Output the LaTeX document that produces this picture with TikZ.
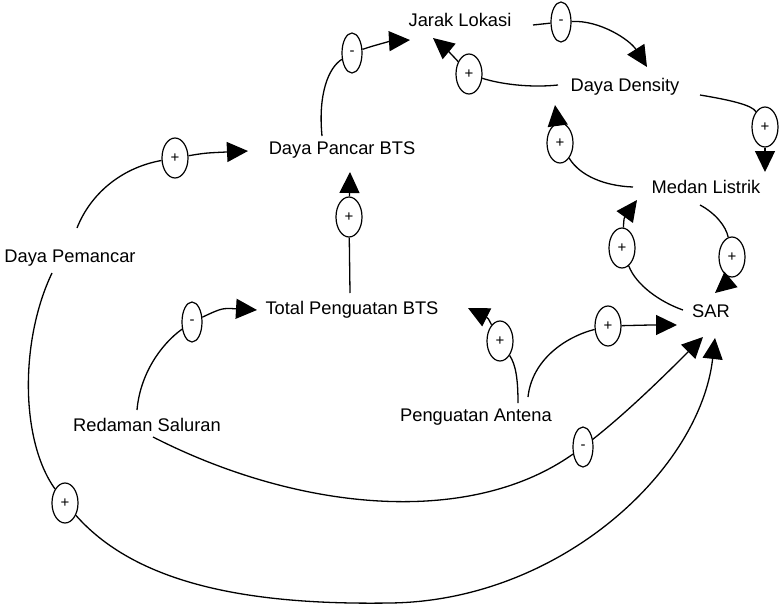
\documentclass[tikz,border=0pt]{standalone}
\usepackage{fontspec}
\setmainfont{Liberation Sans}
\usetikzlibrary{arrows.meta,shapes.geometric,calc}
\begin{document}
\begin{tikzpicture}[x=1pt,y=-1pt,
  lbl/.style={font=\fontsize{18.3}{22}\selectfont, inner sep=0pt},
  pol/.style={ellipse, draw, line width=1.2pt, minimum height=40pt, inner sep=0pt, font=\fontsize{15}{17}\selectfont},
  polp/.style={pol, minimum width=26pt},
  polm/.style={pol, minimum width=20pt},
  link/.style={line width=1.3pt},
  arr/.style={link, -{Triangle[length=21pt,width=20pt]}}]
\useasboundingbox (0,0) rectangle (780,605);

% variables
\node[lbl] (jl)  at (460,20)  {Jarak Lokasi};
\node[lbl] (dd)  at (625,87)  {Daya Density};
\node[lbl] (dpb) at (342,150) {Daya Pancar BTS};
\node[lbl] (ml)  at (706,187) {Medan Listrik};
\node[lbl] (pem) at (70,258)  {Daya Pemancar};
\node[lbl] (tpb) at (352,310) {Total Penguatan BTS};
\node[lbl] (sar) at (711,311) {SAR};
\node[lbl] (rs)  at (147,425) {Redaman Saluran};
\node[lbl] (pa)  at (476,417) {Penguatan Antena};

% polarity markers
\node[polm] (o1)  at (352,53)  {-};
\node[polm] (o2)  at (561,22)  {-};
\node[polp] (o3)  at (469,74)  {+};
\node[polp] (o4)  at (560,143) {+};
\node[polp] (o5)  at (765,127) {+};
\node[polp] (o6)  at (622,248) {+};
\node[polp] (o7)  at (732,257) {+};
\node[polp] (o8)  at (175,158) {+};
\node[polp] (o9)  at (349,217) {+};
\node[polm] (o10) at (192,322) {-};
\node[polp] (o11) at (500,341) {+};
\node[polp] (o12) at (608,326) {+};
\node[polm] (o13) at (583,447) {-};
\node[polp] (o14) at (65,503)  {+};

% Daya Pancar BTS -> Jarak Lokasi
\draw[link] ($(dpb)+(-20,-14)$) .. controls (318,95) and (328,68) .. (o1);
\draw[arr] (o1) .. controls (375,45) and (392,41) .. ($(jl)+(-50,20)$);
% Jarak Lokasi -> Daya Density
\draw[link] ($(jl)+(73,5)$) -- (o2);
\draw[arr] (o2) .. controls (600,20) and (630,40) .. ($(dd)+(22,-20)$);
% Daya Density -> Jarak Lokasi
\draw[link] ($(dd)+(-67,-2)$) .. controls (530,88) and (500,84) .. (o3);
\draw[arr] (o3) .. controls (455,58) and (445,48) .. ($(jl)+(-27,18)$);
% Medan Listrik -> Daya Density
\draw[link] ($(ml)+(-73,0)$) .. controls (605,186) and (580,176) .. (o4);
\draw[arr] (o4) -- ($(dd)+(-70,18)$);
% Daya Density -> Medan Listrik
\draw[link] ($(dd)+(75,8)$) .. controls (730,100) and (752,105) .. (o5);
\draw[arr] (o5) -- ($(ml)+(59,-15)$);
% SAR -> Medan Listrik
\draw[link] ($(sar)+(-28,-1)$) .. controls (660,302) and (636,285) .. (o6);
\draw[arr] (o6) .. controls (624,218) .. ($(ml)+(-69,13)$);
% Medan Listrik -> SAR
\draw[link] ($(ml)+(-6,18)$) .. controls (715,213) and (726,226) .. (o7);
\draw[arr] (o7) .. controls (728,282) .. ($(sar)+(4,-18)$);
% Daya Pemancar -> Daya Pancar BTS
\draw[link] ($(pem)+(7,-30)$) .. controls (90,195) and (120,168) .. (o8);
\draw[arr] (o8) .. controls (205,153) .. ($(dpb)+(-94,1)$);
% Total Penguatan BTS -> Daya Pancar BTS
\draw[link] ($(tpb)+(-2,-17)$) -- (o9);
\draw[arr] (o9) -- ($(dpb)+(8,22)$);
% Redaman Saluran -> Total Penguatan BTS
\draw[link] ($(rs)+(-10,-15)$) .. controls (140,375) and (160,345) .. (o10);
\draw[arr] (o10) .. controls (222,308) .. ($(tpb)+(-95,0)$);
% Penguatan Antena -> Total Penguatan BTS
\draw[link] ($(pa)+(42,-14)$) .. controls (518,380) and (516,365) .. (o11);
\draw[arr] (o11) .. controls (488,318) .. ($(tpb)+(116,-2)$);
% Penguatan Antena -> SAR
\draw[link] ($(pa)+(52,-20)$) .. controls (532,360) and (565,337) .. (o12);
\draw[arr] (o12) .. controls (650,325) .. ($(sar)+(-34,14)$);
% Redaman Saluran -> SAR
\draw[link] ($(rs)+(6,12)$) .. controls (300,512) and (470,527) .. (o13);
\draw[arr] (o13) .. controls (630,410) and (670,370) .. ($(sar)+(-8,26)$);
% Daya Pemancar -> SAR
\draw[link] ($(pem)+(-18,15)$) .. controls (20,340) and (20,440) .. (o14);
\draw[arr] (o14) .. controls (140,588) and (260,605) .. (390,603) .. controls (560,601) and (700,470) .. ($(sar)+(4,27)$);
\end{tikzpicture}
\end{document}
